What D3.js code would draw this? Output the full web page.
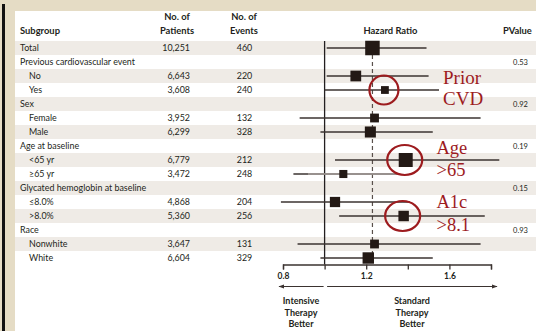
<!DOCTYPE html>
<html>
<head>
<meta charset="utf-8">
<script src="https://cdn.jsdelivr.net/npm/d3@7"></script>
<style>
  html, body { margin: 0; padding: 0; background: #fff; }
  svg { display: block; }
  text { font-family: Lato, "Open Sans", sans-serif; fill: #231f20; }
  text.callout { font-family: "Liberation Serif", "Times New Roman", serif; fill: #9d1b1e; }
</style>
</head>
<body>
<svg id="chart" width="536" height="331"></svg>
<script>
// Subgroup rows (level 0 = heading, 1 = indented subgroup)
const subgroups = ["Total", "Previous cardiovascular event", "No", "Yes", "Sex", "Female", "Male",
  "Age at baseline", "<65 yr", "\u226565 yr", "Glycated hemoglobin at baseline", "\u22648.0%", ">8.0%",
  "Race", "Nonwhite", "White"];
const levels = [0, 0, 1, 1, 0, 1, 1, 0, 1, 1, 0, 1, 1, 0, 1, 1];
const patients = ["10,251", "", "6,643", "3,608", "", "3,952", "6,299", "", "6,779", "3,472", "", "4,868", "5,360", "", "3,647", "6,604"];
const events = ["460", "", "220", "240", "", "132", "328", "", "212", "248", "", "204", "256", "", "131", "329"];
const hazardRatio = [1.23, null, 1.15, 1.29, null, 1.24, 1.22, null, 1.39, 1.09, null, 1.05, 1.38, null, 1.24, 1.21];
const ciLower = [1.01, null, 1.01, 1.00, null, 0.88, 0.98, null, 1.05, 0.85, null, 0.79, 1.07, null, 0.87, 0.98];
const ciUpper = [1.49, null, 1.50, 1.55, null, 1.75, 1.52, null, 1.84, 1.35, null, 1.41, 1.77, null, 1.75, 1.52];
const boxWeight = [100, null, 55, 29, null, 37, 58, null, 93, 31, null, 50, 52, null, 37, 62];
const pValues = ["", "0.53", "", "", "0.92", "", "", "0.19", "", "", "0.15", "", "", "0.93", "", ""];
const axisTicks = [0.8, 1.0, 1.2, 1.4, 1.6, 1.8];
const axisLabels = [0.8, 1.2, 1.6];
const overallHR = 1.23;
const fadedRow = 9, fadedFrom = 0.92;   // lighter part of the >=65 yr interval

// Highlighted subgroups
const callouts = [
  { row: 3, lines: ["Prior", "CVD"], rx: 14.5, ry: 14.5 },
  { row: 8, lines: ["Age", ">65"], rx: 17.5, ry: 15 },
  { row: 12, lines: ["A1c", ">8.1"], rx: 17.5, ry: 15 }
];

const svg = d3.select("#chart");
const W = 536, H = 331;
const ink = "#231f20", lineInk = "#3b3330", red = "#9d1b1e";

// Frame: beige paper border with a dark rule on the left
svg.append("rect").attr("width", W).attr("height", H).attr("fill", "#e5dcc5");
svg.append("rect").attr("x", 15).attr("y", 11).attr("width", W - 15).attr("height", H - 11).attr("fill", "#fff");
svg.append("rect").attr("x", 2).attr("y", 4).attr("width", 3).attr("height", H - 4).attr("fill", "#111");

const x = d3.scaleLinear().domain([0.8, 1.8]).range([283, 491]);
const y = d3.scalePoint().domain(d3.range(subgroups.length)).range([48, 258]);
const size = d3.scaleSqrt().domain([0, 100]).range([0, 14.5]);

// Alternating row bands
svg.append("g").selectAll("rect")
  .data(d3.range(subgroups.length).filter(i => i % 2 === 0))
  .join("rect")
  .attr("x", 15).attr("y", i => y(i) - 7).attr("width", W - 15).attr("height", 14)
  .attr("fill", "#efebe6");

// Column headers
const head = svg.append("g").attr("font-size", 9.4).attr("font-weight", 700);
head.append("text").attr("x", 20).attr("y", 34).text("Subgroup");
head.append("text").attr("x", 177).attr("y", 20).attr("text-anchor", "middle").text("No. of");
head.append("text").attr("x", 177).attr("y", 34).attr("text-anchor", "middle").text("Patients");
head.append("text").attr("x", 244).attr("y", 20).attr("text-anchor", "middle").text("No. of");
head.append("text").attr("x", 244).attr("y", 34).attr("text-anchor", "middle").text("Events");
head.append("text").attr("x", 390.5).attr("y", 34).attr("text-anchor", "middle").text("Hazard Ratio");
head.append("text").attr("x", 503).attr("y", 34).text("PValue");

// Table text
const rows = svg.append("g").attr("font-size", 8.9);
rows.selectAll(".lab").data(subgroups).join("text")
  .attr("x", (d, i) => levels[i] ? 29 : 20).attr("y", (d, i) => y(i) + 3).text(d => d);
rows.selectAll(".pat").data(patients).join("text")
  .attr("x", 190).attr("y", (d, i) => y(i) + 3).attr("text-anchor", "end").text(d => d);
rows.selectAll(".evt").data(events).join("text")
  .attr("x", 244.5).attr("y", (d, i) => y(i) + 3).attr("text-anchor", "middle").text(d => d);
svg.append("g").attr("font-size", 7.5).selectAll("text").data(pValues).join("text")
  .attr("x", 520.5).attr("y", (d, i) => y(i) + 3).attr("text-anchor", "middle").text(d => d);

// Reference lines: no effect (solid) and overall estimate (dashed)
const axisY = 264.5;
svg.append("line").attr("x1", x(1)).attr("x2", x(1)).attr("y1", y(0) - 7).attr("y2", axisY)
  .attr("stroke", ink).attr("stroke-width", 1.3);
svg.append("line").attr("x1", x(overallHR)).attr("x2", x(overallHR)).attr("y1", y(0)).attr("y2", axisY)
  .attr("stroke", "#5a504b").attr("stroke-width", 1.2).attr("stroke-dasharray", "4,3");

// Confidence intervals and boxes
const est = d3.range(subgroups.length).filter(i => hazardRatio[i] != null);
const plot = svg.append("g");
plot.selectAll(".ci").data(est).join("line")
  .attr("x1", i => x(ciLower[i])).attr("x2", i => x(ciUpper[i]))
  .attr("y1", i => y(i)).attr("y2", i => y(i))
  .attr("stroke", lineInk).attr("stroke-width", 1.4);
plot.append("line")
  .attr("x1", x(fadedFrom)).attr("x2", x(ciUpper[fadedRow]))
  .attr("y1", y(fadedRow)).attr("y2", y(fadedRow))
  .attr("stroke", "#a7a19d").attr("stroke-width", 1.6);
plot.selectAll(".box").data(est).join("rect")
  .attr("x", i => x(hazardRatio[i]) - size(boxWeight[i]) / 2)
  .attr("y", i => y(i) - size(boxWeight[i]) / 2)
  .attr("width", i => size(boxWeight[i])).attr("height", i => size(boxWeight[i]))
  .attr("fill", "#231915");

// Axis
const axis = svg.append("g").attr("transform", `translate(0,${axisY})`)
  .call(d3.axisBottom(x).tickValues(axisTicks).tickSize(5).tickPadding(3)
    .tickFormat(d => axisLabels.includes(d) ? d3.format(".1f")(d) : ""));
axis.select(".domain").attr("stroke", lineInk).attr("stroke-width", 1.3);
axis.selectAll(".tick line").attr("stroke", lineInk).attr("stroke-width", 1.3);
axis.selectAll(".tick text").attr("font-size", 8.5).attr("font-weight", 700);

// Direction arrows and captions
const defs = svg.append("defs");
defs.append("marker").attr("id", "head").attr("viewBox", "0 0 10 10")
  .attr("refX", 9).attr("refY", 5).attr("markerWidth", 5).attr("markerHeight", 5)
  .attr("orient", "auto-start-reverse")
  .append("path").attr("d", "M0,1.5 L10,5 L0,8.5 Z").attr("fill", lineInk);
const arrowY = 286.5;
svg.append("line").attr("x1", x(1) - 1).attr("x2", 279).attr("y1", arrowY).attr("y2", arrowY)
  .attr("stroke", lineInk).attr("stroke-width", 1.2).attr("marker-end", "url(#head)");
svg.append("line").attr("x1", x(1) + 2.5).attr("x2", 497).attr("y1", arrowY).attr("y2", arrowY)
  .attr("stroke", lineInk).attr("stroke-width", 1.2).attr("marker-end", "url(#head)");
const cap = svg.append("g").attr("font-size", 9).attr("font-weight", 700).attr("text-anchor", "middle");
["Intensive", "Therapy", "Better"].forEach((t, k) =>
  cap.append("text").attr("x", 301).attr("y", 304 + k * 11.5).text(t));
["Standard", "Therapy", "Better"].forEach((t, k) =>
  cap.append("text").attr("x", 412).attr("y", 304 + k * 11.5).text(t));

// Callouts
const ann = svg.append("g");
callouts.forEach(c => {
  const cx = x(hazardRatio[c.row]), cy = y(c.row);
  ann.append("ellipse").attr("cx", cx - 1).attr("cy", cy).attr("rx", c.rx).attr("ry", c.ry)
    .attr("fill", "none").attr("stroke", red).attr("stroke-width", 2.2);
});
const annText = [
  { x: 443, y0: 83.5, y1: 104.5, size: 19 },
  { x: 436.5, y0: 153.5, y1: 176, size: 18.5 },
  { x: 436.5, y0: 208, y1: 230.5, size: 18.5 }
];
annText.forEach((a, k) => {
  const c = callouts[k];
  ann.append("text").attr("class", "callout").attr("x", a.x).attr("y", a.y0)
    .attr("font-size", a.size).text(c.lines[0]);
  ann.append("text").attr("class", "callout").attr("x", a.x).attr("y", a.y1)
    .attr("font-size", a.size).text(c.lines[1]);
});
</script>
</body>
</html>
